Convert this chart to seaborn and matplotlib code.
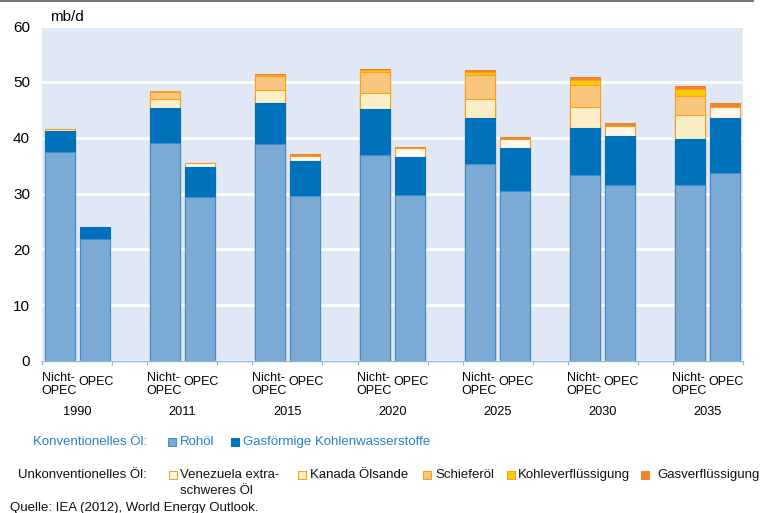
import matplotlib.pyplot as plt
import matplotlib.patches as mpatches
import matplotlib.lines as mlines
import seaborn as sns
import pandas as pd

plt.rcParams["font.family"] = ["Liberation Sans", "DejaVu Sans"]

years = ["1990", "2011", "2015", "2020", "2025", "2030", "2035"]
layers = ["Rohöl", "Gasförmige Kohlenwasserstoffe", "Venezuela extra-schweres Öl",
          "Kanada Ölsande", "Schieferöl", "Kohleverflüssigung", "Gasverflüssigung"]

# Nicht-OPEC (mb/d)
rohoel_non = [37.5, 39.0, 38.8, 36.9, 35.3, 33.4, 31.5]
gas_non = [3.7, 6.4, 7.4, 8.2, 8.2, 8.4, 8.3]
venez_non = [0, 0, 0, 0, 0, 0, 0]
kanada_non = [0.3, 1.6, 2.3, 2.9, 3.4, 3.7, 4.3]
schiefer_non = [0, 1.2, 2.6, 3.8, 4.3, 4.0, 3.3]
kohle_non = [0.1, 0.1, 0.2, 0.3, 0.5, 0.9, 1.3]
gasverfl_non = [0, 0, 0.1, 0.3, 0.5, 0.5, 0.5]

# OPEC (mb/d)
rohoel_opec = [21.9, 29.3, 29.5, 29.7, 30.5, 31.6, 33.7]
gas_opec = [2.2, 5.5, 6.3, 6.9, 7.7, 8.7, 9.8]
venez_opec = [0, 0.6, 0.9, 1.5, 1.5, 1.8, 2.0]
kanada_opec = [0, 0, 0, 0, 0, 0, 0]
schiefer_opec = [0, 0, 0, 0, 0, 0, 0]
kohle_opec = [0, 0, 0, 0, 0, 0, 0]
gasverfl_opec = [0, 0.1, 0.35, 0.3, 0.4, 0.5, 0.7]

non = [rohoel_non, gas_non, venez_non, kanada_non, schiefer_non, kohle_non, gasverfl_non]
opec = [rohoel_opec, gas_opec, venez_opec, kanada_opec, schiefer_opec, kohle_opec, gasverfl_opec]

faces = ["#7BAAD4", "#0071BB", "#FFF7EB", "#FBEFC7", "#FAC57E", "#FFC80A", "#F08431"]
edges = ["#3F8FCF", "#0071BB", "#F7A21B", "#F7A21B", "#F7A21B", "#F7A21B", "#F08431"]

# slots: two bars per year and an empty slot between the years
slot_order = []
for i, y in enumerate(years):
    slot_order += [y + " Nicht-OPEC", y + " OPEC"]
    if i < len(years) - 1:
        slot_order.append(y + " gap")

rows = []
for i, y in enumerate(years):
    for reg, vals in (("Nicht-OPEC", non), ("OPEC", opec)):
        cum = 0
        for k, layer in enumerate(layers):
            cum += vals[k][i]
            rows.append(dict(slot=y + " " + reg, layer=layer, value=vals[k][i], top=cum))
df = pd.DataFrame(rows)

fig = plt.figure(figsize=(7.6, 5.13), dpi=100)
ax = fig.add_axes([0.0559, 0.2963, 0.9211, 0.6527])

# draw cumulative totals from the top layer down
for k in reversed(range(len(layers))):
    sub = df[(df["layer"] == layers[k]) & (df["value"] > 0)]
    sns.barplot(data=sub, x="slot", y="top", order=slot_order, color=faces[k],
                edgecolor=edges[k], linewidth=0.8, saturation=1, width=0.85,
                errorbar=None, ax=ax)

ax.set_facecolor("#E1E8F5")
ax.set_xlim(-0.5, len(slot_order) - 0.5)
ax.set_ylim(0, 60)
ax.set_yticks(range(0, 61, 10))
ax.yaxis.grid(True, color="white", linewidth=2.2)
ax.xaxis.grid(False)
ax.set_axisbelow(True)
ax.set_xlabel("")
ax.set_ylabel("")
for s in ["top", "right", "left"]:
    ax.spines[s].set_visible(False)
ax.spines["bottom"].set_color("#8DB6DD")
ax.spines["bottom"].set_linewidth(1)

bounds = [-0.5]
for i in range(len(years)):
    p = slot_order.index(years[i] + " OPEC")
    bounds.append(p + 0.5)
    if i < len(years) - 1:
        bounds.append(p + 1.5)
bounds[-1] = len(slot_order) - 0.5
ax.set_xticks(bounds)
ax.set_xticklabels([])
ax.tick_params(axis="x", length=3, color="#8DB6DD", direction="out")
ax.tick_params(axis="y", length=0, pad=9, labelsize=11)

trans = ax.get_xaxis_transform()
for y in years:
    pn = slot_order.index(y + " Nicht-OPEC")
    po = slot_order.index(y + " OPEC")
    ax.text(pn - 0.04, -0.070, "Nicht-\nOPEC", transform=trans, ha="center", va="center",
            fontsize=9, linespacing=1.1)
    ax.text(po + 0.02, -0.064, "OPEC", transform=trans, ha="center", va="center", fontsize=9)
    ax.text((pn + po) / 2, -0.152, y, transform=trans, ha="center", va="center", fontsize=9.2)

fig.text(50 / 760, 1 - 17 / 513, "mb/d", fontsize=11, ha="left", va="center")
fig.add_artist(mlines.Line2D([0, 753 / 760], [1 - 1 / 513, 1 - 1 / 513],
                             color="#777777", linewidth=1.5, transform=fig.transFigure))

W, H = 760, 513
blue_txt = "#2580C8"


def square(x, yc, face, edge):
    fig.add_artist(mpatches.Rectangle((x / W, 1 - (yc + 4) / H), 8 / W, 8 / H,
                                      facecolor=face, edgecolor=edge, linewidth=0.8,
                                      transform=fig.transFigure))


def label(x, yc, s, color="#111111", ha="left"):
    fig.text(x / W, 1 - yc / H, s, fontsize=9.5, color=color, ha=ha, va="center")


label(147, 442, "Konventionelles Öl:", blue_txt, ha="right")
square(168, 442, faces[0], edges[0])
label(180, 442, "Rohöl", blue_txt)
square(231, 442, faces[1], edges[1])
label(243, 442, "Gasförmige Kohlenwasserstoffe", blue_txt)

label(147, 475, "Unkonventionelles Öl:", ha="right")
square(169, 475, faces[2], edges[2])
label(180, 475, "Venezuela extra-")
label(180, 491, "schweres Öl")
square(298, 475, faces[3], edges[3])
label(310, 475, "Kanada Ölsande")
square(423, 475, faces[4], edges[4])
label(435, 475, "Schieferöl")
square(507, 475, faces[5], edges[5])
label(518, 475, "Kohleverflüssigung")
square(641, 475, faces[6], edges[6])
label(657, 475, "Gasverflüssigung")

label(10, 508, "Quelle: IEA (2012), World Energy Outlook.")

fig.savefig("out.png", dpi=100)
